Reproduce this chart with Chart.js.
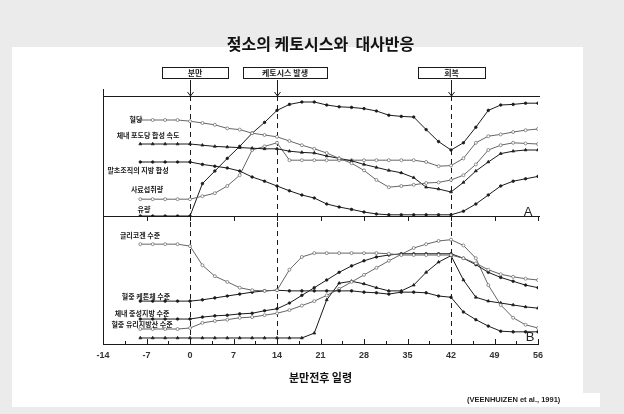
<!DOCTYPE html>
<html>
<head>
<meta charset="utf-8">
<script src="https://cdn.jsdelivr.net/npm/chart.js@4/dist/chart.umd.min.js"></script>
<style>
  html, body { margin: 0; padding: 0; background: #ebebeb; }
  #wrap { position: relative; width: 624px; height: 414px; }
  canvas { display: block; }
</style>
</head>
<body>
<div id="wrap"><canvas id="chart" width="624" height="414"></canvas></div>
<script>
// Days relative to calving
const days = [-8,-6,-4,-2,0,2,4,6,8,10,12,14,16,18,20,22,24,26,28,30,32,34,36,38,40,42,44,46,48,50,52,54,56];
const dayTicks = [-14,-7,0,7,14,21,28,35,42,49,56];

// Panel A (relative level, 0-100)
const bloodGlucose   = [80,80,80,80,79,77.5,76,73,72,69,67.5,66,62.5,59,56,52.5,48,44,38,30,24,25,26,27.5,28,30,34,43,55,59,61,60.5,60];
const glucoseSynth   = [60,60,60,60,60,59,58,57.5,57,56.5,56,56,54,53,52.5,50,48,46,43,40.5,38,36,32,24,22.5,20,28,37.5,45,52,54,55,55];
const peripheralFat  = [45,45,45,45,45,43,41.5,40,37.5,32.5,29,25,21,17.5,15,10,7.5,5.5,3.3,1.7,1,1,1,1,1,1,4,10,17.5,25,29,31,33];
const feedIntake     = [14,14,14,14,14,16.5,19,25,34,55,58,61,46.5,46.5,46.5,46.5,46.5,46.5,46.5,46.5,46.5,46.5,46.5,45,41.5,42,48,61,66.5,68,70,71.5,72.5];
const milkYield      = [0,0,0,0,0,27,37.5,48,58,69,78,88,93,95,95,92.5,91,90.5,89.5,87.5,84,83,82.5,72,62,55,61,74,88,92.5,93,94,94];

// Panel B (relative level, 0-100)
const glycogen       = [78,78,78,78,76.5,61.5,53,48.5,44,42,41.5,42,58,68,71,71,71,71,71,71,70.5,69.5,69.5,69.5,69.5,69.5,67,63,58,54.5,52.5,51,50];
const ketoneBodies   = [33.5,33.5,33.5,33.5,33.5,34.5,36,37.5,39,40.5,41.5,42,41.5,41.5,41.5,41.5,41.5,41.5,40.5,40,39,40.5,40.5,40,37.5,36.5,25,19,14,10,9.5,9.5,9.5];
const triglyceride   = [19.5,19.5,19.5,19.5,19.5,21,22,22.5,23.5,24,26,27.5,32,38,44,50,56,61,65,68,69.5,70.5,70.5,70.5,70.5,70.5,67,62,56,52,49,46,44];
const freeFattyAcid  = [11.7,11.7,11.7,11.7,12.5,16.5,18,19,20.5,21,22.5,24,26.5,30,33.5,38,43,48.5,54,59.5,65,70,75,78,80.5,81.5,77,67,46,30.5,20.5,15,12.5];
const liverEnzyme    = [4.7,4.7,4.7,4.7,4.7,4.7,4.7,4.7,4.7,4.7,4.7,4.7,4.7,4.7,8.5,34.5,47.5,49,47,44,41.5,41.5,46,56,64,69,50,36.5,33.5,32,30.5,29,28];

const seriesNamesA = ['혈당', '체내 포도당 합성 속도', '말초조직의 지방 합성', '사료섭취량', '유량'];
const seriesNamesB = ['글리코겐 수준', '혈중 케톤체 수준', '체내 중성지방 수준', '혈중 유리지방산 수준', ''];
const events = [
  { day: 0,  text: '분만' },
  { day: 14, text: '케토시스 발생' },
  { day: 42, text: '회복' }
];

const INK = '#1b1b1b';
const GREY = '#666';

function pts(vals) { return days.map((d, i) => ({ x: d, y: vals[i] })); }

function line(label, vals, axis, kind) {
  const open = kind === 'open';
  return {
    label: label,
    data: pts(vals),
    yAxisID: axis,
    borderColor: open ? GREY : INK,
    borderWidth: 1,
    tension: 0,
    pointStyle: kind === 'tri' ? 'triangle' : 'circle',
    pointRadius: kind === 'tri' ? 1.7 : (open ? 1.5 : 1.3),
    pointBackgroundColor: open ? '#fff' : INK,
    pointBorderColor: open ? GREY : INK,
    pointBorderWidth: 0.7
  };
}

const datasets = [
  line(seriesNamesA[0], bloodGlucose, 'yA', 'open'),
  line(seriesNamesA[1], glucoseSynth, 'yA', 'tri'),
  line(seriesNamesA[2], peripheralFat, 'yA', 'dot'),
  line(seriesNamesA[3], feedIntake, 'yA', 'open'),
  line(seriesNamesA[4], milkYield, 'yA', 'dot'),
  line(seriesNamesB[0], glycogen, 'yB', 'open'),
  line(seriesNamesB[1], ketoneBodies, 'yB', 'dot'),
  line(seriesNamesB[2], triglyceride, 'yB', 'dot'),
  line(seriesNamesB[3], freeFattyAcid, 'yB', 'open'),
  line('', liverEnzyme, 'yB', 'tri')
];

// Where each series name sits next to the start of its curve
const nameSpots = [
  [136,119],[148,135],[138,170],[147,189],[144,209],
  [140,235],[146,296],[142,313],[142,324]
];

const decor = {
  id: 'decor',
  beforeDraw(chart) {
    const ctx = chart.ctx;
    ctx.save();
    ctx.fillStyle = '#ebebeb';
    ctx.fillRect(0, 0, chart.width, chart.height);
    ctx.fillStyle = '#ffffff';
    ctx.fillRect(12, 47, 571, 360);   // figure sheet
    ctx.fillRect(12, 393, 588, 14);   // citation strip
    ctx.restore();
  },
  beforeDatasetsDraw(chart) {
    const ctx = chart.ctx;
    const x = chart.scales.x, yA = chart.scales.yA, yB = chart.scales.yB;
    const top = yA.top, mid = yA.bottom, bot = yB.bottom;
    ctx.save();
    ctx.strokeStyle = INK;
    ctx.lineWidth = 1;
    // frame
    ctx.beginPath();
    ctx.moveTo(x.left + 0.5, top - 7); ctx.lineTo(x.left + 0.5, bot);
    ctx.moveTo(x.left, top + 0.5); ctx.lineTo(x.right + 2, top + 0.5);
    ctx.moveTo(x.left, mid + 0.5); ctx.lineTo(x.right + 2, mid + 0.5);
    ctx.stroke();
    // ticks on the panel divider and the day axis
    ctx.beginPath();
    dayTicks.forEach(d => {
      const px = Math.round(x.getPixelForValue(d)) + 0.5;
      ctx.moveTo(px, mid); ctx.lineTo(px, mid + 5);
      ctx.moveTo(px, bot); ctx.lineTo(px, bot - 5);
      if (d < 56) {
        const hx = Math.round(x.getPixelForValue(d + 3.5)) + 0.5;
        ctx.moveTo(hx, bot); ctx.lineTo(hx, bot - 3);
      }
    });
    ctx.stroke();
    // event markers
    ctx.setLineDash([5, 4]);
    ctx.beginPath();
    events.forEach(e => {
      const px = Math.round(x.getPixelForValue(e.day)) + 0.5;
      ctx.moveTo(px, top); ctx.lineTo(px, bot);
    });
    ctx.stroke();
    ctx.restore();
  },
  afterDraw(chart) {
    const ctx = chart.ctx;
    const x = chart.scales.x;
    const top = chart.scales.yA.top;
    ctx.save();
    // event boxes with arrows
    const boxes = [[162, 228], [243, 327], [418, 485]];
    ctx.strokeStyle = INK;
    ctx.fillStyle = INK;
    ctx.lineWidth = 1;
    ctx.textAlign = 'center';
    ctx.textBaseline = 'middle';
    ctx.font = 'bold 8px "Noto Sans CJK KR"';
    events.forEach((e, i) => {
      const [x0, x1] = boxes[i];
      ctx.fillStyle = '#fff';
      ctx.fillRect(x0, 67, x1 - x0, 11);
      ctx.strokeRect(x0 + 0.5, 67.5, x1 - x0, 11);
      ctx.fillStyle = INK;
      ctx.fillText(e.text, (x0 + x1) / 2, 73);
      const px = Math.round(x.getPixelForValue(e.day)) + 0.5;
      ctx.beginPath();
      ctx.moveTo(px, 80); ctx.lineTo(px, top);
      ctx.moveTo(px - 3, top - 4); ctx.lineTo(px, top); ctx.lineTo(px + 3, top - 4);
      ctx.stroke();
    });
    // series names
    ctx.font = 'bold 7px "Noto Sans CJK KR"';
    const names = seriesNamesA.concat(seriesNamesB);
    nameSpots.forEach((p, i) => {
      ctx.fillText(names[i], p[0], p[1]);
    });
    // panel letters
    ctx.font = '13px "Liberation Sans"';
    ctx.fillStyle = '#222';
    ctx.fillText('A', 528, 212);
    ctx.fillText('B', 530, 337);
    // source
    ctx.font = 'bold 7.5px "Liberation Sans"';
    ctx.textAlign = 'left';
    ctx.fillText('(VEENHUIZEN et al., 1991)', 467, 400);
    ctx.restore();
  }
};

new Chart(document.getElementById('chart'), {
  type: 'line',
  data: { datasets: datasets },
  plugins: [decor],
  options: {
    responsive: false,
    animation: false,
    events: [],
    layout: { padding: { left: 103, right: 86, top: 0, bottom: 0 } },
    plugins: {
      legend: { display: false },
      tooltip: { enabled: false },
      title: {
        display: true,
        text: '젖소의 케토시스와  대사반응',
        color: '#111',
        font: { family: '"Noto Sans CJK KR"', size: 16, weight: 'bold', lineHeight: 1.2 },
        padding: { top: 34, bottom: 42.8 }
      }
    },
    scales: {
      x: {
        type: 'linear',
        min: -14, max: 56,
        afterBuildTicks(s) { s.ticks = dayTicks.map(v => ({ value: v })); },
        afterFit(s) { s.height = 70; },
        grid: { display: false, drawTicks: false },
        border: { display: true, color: INK, width: 1 },
        ticks: {
          padding: 6,
          color: '#333',
          font: { family: '"Liberation Sans"', size: 9, weight: 'bold' }
        },
        title: {
          display: true,
          text: '분만전후 일령',
          color: '#111',
          font: { family: '"Noto Sans CJK KR"', size: 11, weight: 'bold', lineHeight: 1.2 },
          padding: { bottom: 30 }
        }
      },
      yB: {
        type: 'linear', position: 'left', stack: 'panels', stackWeight: 128,
        min: 0, max: 100, display: false
      },
      yA: {
        type: 'linear', position: 'left', stack: 'panels', stackWeight: 120,
        min: 0, max: 100, display: false
      }
    }
  }
});
</script>
</body>
</html>
